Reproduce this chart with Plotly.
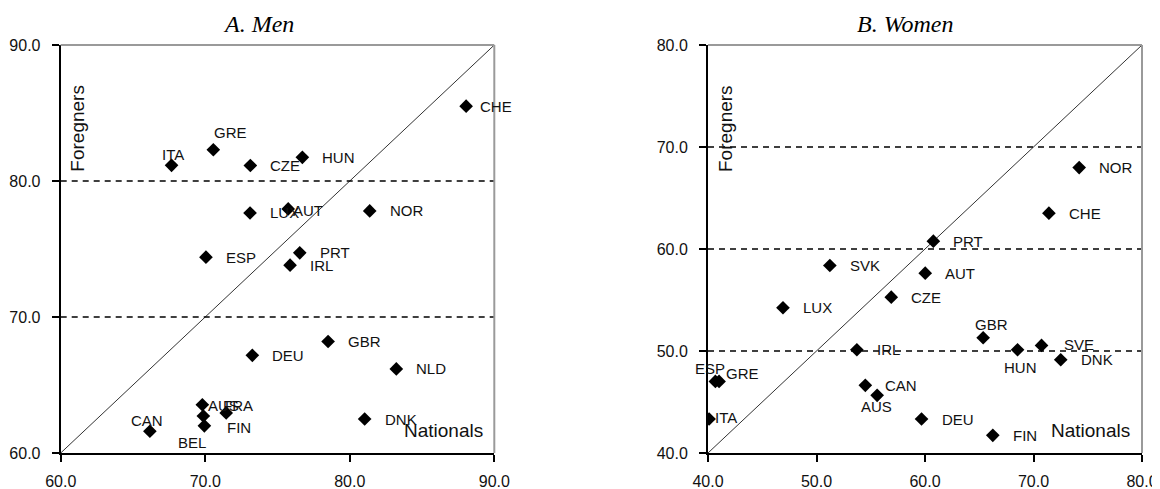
import plotly.graph_objects as go

# ---------------- data ----------------
men_countries = ["CHE", "GRE", "ITA", "CZE", "HUN", "LUX", "AUT", "NOR", "ESP", "PRT",
                 "IRL", "GBR", "DEU", "NLD", "AUS", "FRA", "FIN", "BEL", "CAN", "DNK"]
men_nationals = [88.05, 70.56, 67.67, 73.12, 76.72, 73.10, 75.74, 81.38, 70.05, 76.54,
                 75.87, 78.50, 73.26, 83.22, 69.80, 71.45, 69.87, 69.94, 66.17, 81.03]
men_foreigners = [85.50, 82.30, 81.15, 81.14, 81.74, 77.65, 77.95, 77.80, 74.40, 74.72,
                  73.81, 68.20, 67.18, 66.18, 63.55, 62.95, 62.72, 62.00, 61.60, 62.50]

women_countries = ["NOR", "CHE", "PRT", "SVK", "AUT", "CZE", "LUX", "GBR", "SVE", "HUN",
                   "DNK", "IRL", "ESP", "GRE", "CAN", "AUS", "ITA", "DEU", "FIN"]
women_nationals = [74.21, 71.42, 60.77, 51.23, 60.02, 56.89, 46.91, 65.36, 70.74, 68.53,
                   72.51, 53.72, 40.68, 41.02, 54.50, 55.59, 40.10, 59.68, 66.25]
women_foreigners = [67.98, 63.51, 60.77, 58.38, 57.63, 55.28, 54.24, 51.30, 50.55, 50.12,
                    49.14, 50.12, 47.02, 47.02, 46.63, 45.65, 43.33, 43.33, 41.73]

men_ticks = [60, 70, 80, 90]
women_ticks = [40, 50, 60, 70, 80]
men_ref_lines = [70, 80]
women_ref_lines = [50, 60, 70]

# label placement (anchor, dx px, dy px downward) -- style, not data
DEF = ("left", 18, 0)
men_label_pos = {
    "CHE": ("left", 12, 0), "GRE": ("center", 17, -17), "ITA": ("center", 1, -11),
    "AUT": ("left", 3, 2), "AUS": ("left", 4, 1), "FRA": ("center", 12, -7),
    "FIN": ("left", 22, 11), "BEL": ("center", -12, 17), "CAN": ("center", -3, -11),
}
women_label_pos = {
    "GBR": ("center", 8, -13), "SVE": ("left", 20, -1), "HUN": ("center", 3, 18),
    "ESP": ("center", -5, -13), "GRE": ("left", 5, -8), "AUS": ("center", -1, 11),
    "ITA": ("left", 4, -2),
}

# page body has an 8px margin: build the figure in page pixels minus that offset
OFF = 8
W, H = 1160 - OFF, 489 - OFF
def px_x(v):
    return (v - OFF) / W
def px_y(v):
    return 1 - (v - OFF) / H

SANS = "Arial, Liberation Sans, sans-serif"
SERIF = "Times New Roman, Liberation Serif, serif"
fig = go.Figure()

panels = [
    dict(xa="x", ya="y", names=men_countries, xs=men_nationals, ys=men_foreigners,
         ticks=men_ticks, refs=men_ref_lines, pos=men_label_pos),
    dict(xa="x2", ya="y2", names=women_countries, xs=women_nationals, ys=women_foreigners,
         ticks=women_ticks, refs=women_ref_lines, pos=women_label_pos),
]

annotations = []
shapes = []
for p in panels:
    lo, hi = p["ticks"][0], p["ticks"][-1]
    fig.add_trace(go.Scatter(x=[lo, hi], y=[lo, hi], mode="lines", xaxis=p["xa"], yaxis=p["ya"],
                             line=dict(color="#333333", width=1), hoverinfo="skip", showlegend=False))
    for r in p["refs"]:
        fig.add_trace(go.Scatter(x=[lo, hi], y=[r, r], mode="lines", xaxis=p["xa"], yaxis=p["ya"],
                                 line=dict(color="black", width=1.5, dash="6px,5px"),
                                 hoverinfo="skip", showlegend=False))
    fig.add_trace(go.Scatter(x=p["xs"], y=p["ys"], mode="markers", xaxis=p["xa"], yaxis=p["ya"],
                             marker=dict(symbol="diamond", size=10.5, color="black"),
                             text=p["names"], showlegend=False))
    for n, xv, yv in zip(p["names"], p["xs"], p["ys"]):
        anc, dx, dy = p["pos"].get(n, DEF)
        annotations.append(dict(x=xv, y=yv, xref=p["xa"], yref=p["ya"], text=n, showarrow=False,
                                xanchor=anc, yanchor="middle", xshift=dx, yshift=-dy,
                                font=dict(family=SANS, size=15, color="#111111")))
    dx_ref = p["xa"] + " domain"
    dy_ref = p["ya"] + " domain"
    shapes.append(dict(type="line", xref=dx_ref, yref=dy_ref, x0=0, x1=1, y0=1, y1=1,
                       line=dict(color="#9a9a9a", width=2)))
    shapes.append(dict(type="line", xref=dx_ref, yref=dy_ref, x0=1, x1=1, y0=0, y1=1,
                       line=dict(color="#9a9a9a", width=2)))
    annotations.append(dict(x=0.04, y=0.795, xref=dx_ref, yref=dy_ref, text="Foregners",
                            textangle=-90, showarrow=False, xanchor="center", yanchor="middle",
                            font=dict(family=SANS, size=19, color="#111111")))
    annotations.append(dict(x=0.978, y=0.056, xref=dx_ref, yref=dy_ref, text="Nationals",
                            showarrow=False, xanchor="right", yanchor="middle",
                            font=dict(family=SANS, size=19, color="#111111")))

annotations.append(dict(x=px_x(258), y=px_y(24), xref="paper", yref="paper", text="<i>A. Men</i>",
                        showarrow=False, xanchor="center", yanchor="middle",
                        font=dict(family=SERIF, size=24, color="black")))
annotations.append(dict(x=px_x(905), y=px_y(24), xref="paper", yref="paper", text="<i>B. Women</i>",
                        showarrow=False, xanchor="center", yanchor="middle",
                        font=dict(family=SERIF, size=24, color="black")))

def axis_style(ticks, domain, anchor, standoff):
    return dict(range=[ticks[0], ticks[-1]], domain=domain, anchor=anchor, automargin=False,
                tickvals=ticks, ticktext=[f"{t:.1f}" for t in ticks],
                showline=True, linecolor="black", linewidth=2, ticks="outside", ticklen=7,
                tickwidth=2, tickcolor="black", showgrid=False, zeroline=False,
                tickfont=dict(family=SANS, size=16, color="#111111"), ticklabelstandoff=standoff)

ydom = [px_y(453), px_y(45)]
fig.update_layout(
    width=W, height=H,
    margin=dict(l=0, r=0, t=0, b=0, autoexpand=False),
    paper_bgcolor="white", plot_bgcolor="white",
    showlegend=False,
    xaxis=axis_style(men_ticks, [px_x(60.7), px_x(494.3)], "y", 6),
    yaxis=axis_style(men_ticks, ydom, "x", 8),
    xaxis2=axis_style(women_ticks, [px_x(708), px_x(1142)], "y2", 6),
    yaxis2=axis_style(women_ticks, ydom, "x2", 8),
    annotations=annotations,
    shapes=shapes,
)

fig.write_html("out.html")
